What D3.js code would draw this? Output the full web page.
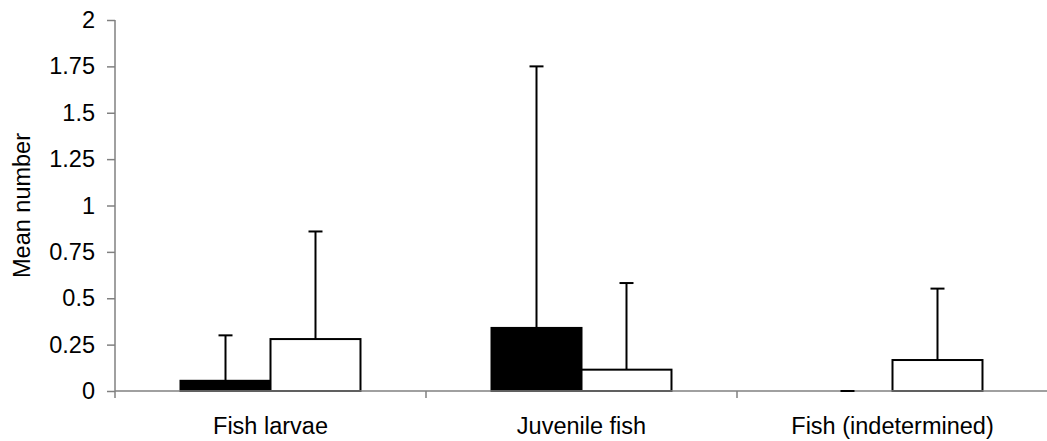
<!DOCTYPE html>
<html>
<head>
<meta charset="utf-8">
<script src="https://cdn.jsdelivr.net/npm/d3@7"></script>
<style>
html,body{margin:0;padding:0;background:#fff;}
svg{display:block;}
text{font-family:"Liberation Sans",Arial,sans-serif;fill:#000;}
</style>
</head>
<body>
<svg id="chart" width="1047" height="441"></svg>
<script>
const categories = ["Fish larvae", "Juvenile fish", "Fish (indetermined)"];
const seriesNames = ["black", "white"];
const blackValues = [0.055, 0.34, 0];
const whiteValues = [0.28, 0.115, 0.167];
const blackErrors = [0.245, 1.41, 0];
const whiteErrors = [0.58, 0.467, 0.385];
const yTicks = [0, 0.25, 0.5, 0.75, 1, 1.25, 1.5, 1.75, 2];
const yTickLabels = ["0", "0.25", "0.5", "0.75", "1", "1.25", "1.5", "1.75", "2"];
const yTitle = "Mean number";

(function () {
const svg = d3.select("#chart");
const mLeft = 115, mRight = 1048, mTop = 20, mBottom = 391;
const FS = 23.5;

const y = d3.scaleLinear().domain([0, 2]).range([mBottom, mTop]);
const x0 = d3.scaleBand().domain(categories).range([mLeft, mRight]).padding(0);
const x1 = d3.scaleBand().domain(seriesNames).range([0, x0.bandwidth()]).paddingInner(0).paddingOuter(0.728);

const data = [];
categories.forEach((c, i) => {
  data.push({cat: c, s: "black", v: blackValues[i], e: blackErrors[i]});
  data.push({cat: c, s: "white", v: whiteValues[i], e: whiteErrors[i]});
});

// bars
const g = svg.append("g");
g.selectAll("rect.bar").data(data.filter(d => d.v > 0)).join("rect")
  .attr("class", "bar")
  .attr("x", d => x0(d.cat) + x1(d.s))
  .attr("y", d => y(d.v))
  .attr("width", x1.bandwidth())
  .attr("height", d => y(0) - y(d.v))
  .attr("fill", d => d.s === "black" ? "#000" : "#fff")
  .attr("stroke", "#000")
  .attr("stroke-width", 2);

// y axis
const yAxis = d3.axisLeft(y).tickValues(yTicks).tickFormat((d, i) => yTickLabels[i]).tickSize(8).tickPadding(12);
const ya = svg.append("g").attr("transform", `translate(${mLeft},0)`).call(yAxis);
ya.select(".domain").remove();
ya.append("line").attr("x1", 0).attr("x2", 0).attr("y1", mTop).attr("y2", mBottom + 7).attr("stroke", "#808080").attr("stroke-width", 1.5);
ya.selectAll(".tick line").attr("stroke", "#808080").attr("stroke-width", 1.5);
ya.selectAll(".tick text").attr("font-size", FS).attr("font-family", "Liberation Sans, Arial, sans-serif").attr("fill", "#000");

// x axis
const xa = svg.append("g");
xa.append("line").attr("x1", mLeft).attr("x2", mRight).attr("y1", mBottom).attr("y2", mBottom).attr("stroke", "#808080").attr("stroke-width", 1.5);
xa.selectAll("line.xt").data(categories.slice(1)).join("line")
  .attr("class", "xt")
  .attr("x1", d => x0(d)).attr("x2", d => x0(d))
  .attr("y1", mBottom).attr("y2", mBottom + 7)
  .attr("stroke", "#808080").attr("stroke-width", 1.5);
xa.selectAll("text").data(categories).join("text")
  .attr("x", d => x0(d) + x0.bandwidth() / 2)
  .attr("y", 434)
  .attr("text-anchor", "middle")
  .attr("font-size", FS)
  .text(d => d);

// error bars
const eg = svg.append("g");
data.forEach(d => {
  const cx = x0(d.cat) + x1(d.s) + x1.bandwidth() / 2;
  eg.append("line").attr("x1", cx).attr("x2", cx).attr("y1", y(d.v)).attr("y2", y(d.v + d.e)).attr("stroke", "#000").attr("stroke-width", 2);
  eg.append("line").attr("x1", cx - 7).attr("x2", cx + 7).attr("y1", y(d.v + d.e)).attr("y2", y(d.v + d.e)).attr("stroke", "#000").attr("stroke-width", 2);
});

// y title
svg.append("text")
  .attr("transform", `translate(30,${(mTop + mBottom) / 2}) rotate(-90)`)
  .attr("text-anchor", "middle")
  .attr("font-size", FS)
  .text(yTitle);
})();
</script>
</body>
</html>
